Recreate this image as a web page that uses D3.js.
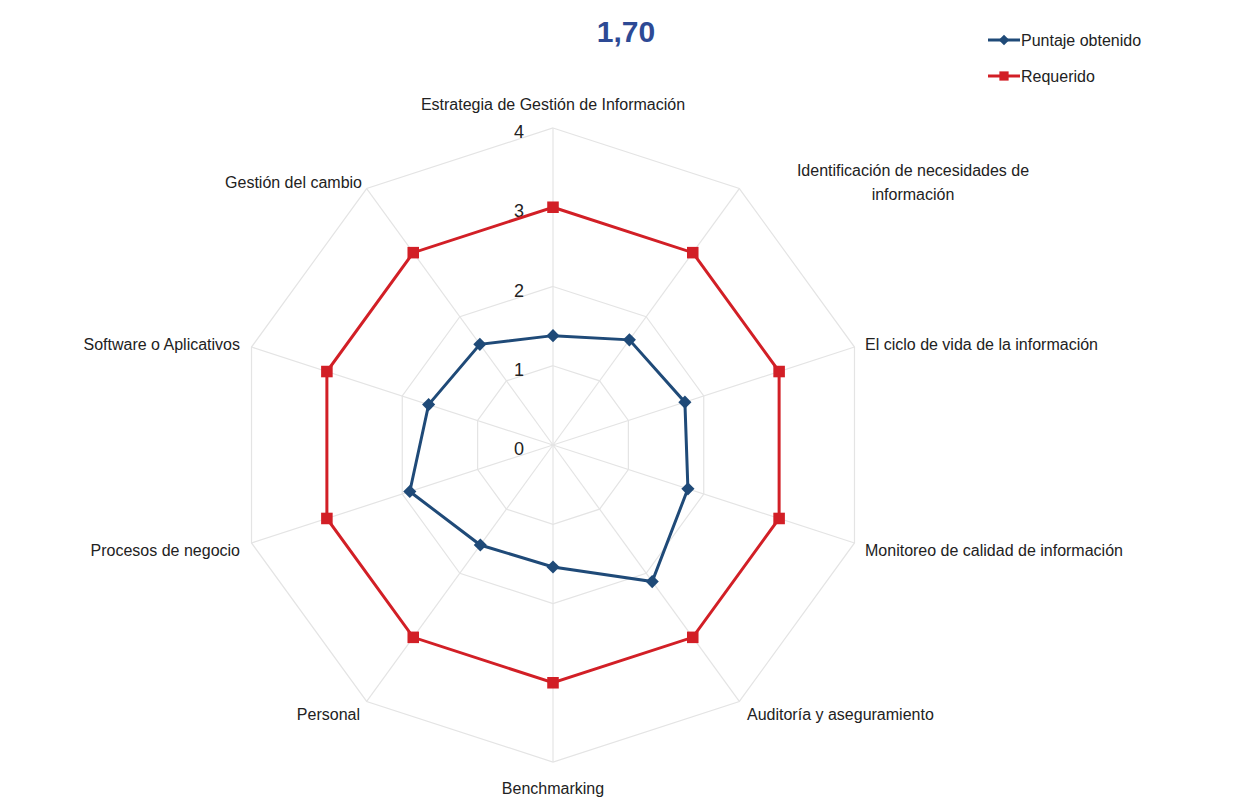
<!DOCTYPE html>
<meta charset="utf-8">
<script src="https://d3js.org/d3.v7.min.js"></script>
<style>
  body { margin: 0; background: #fff; }
  text { font-family: "Liberation Sans", Arial, sans-serif; fill: #222; }
</style>
<div id="chart"></div>
<script>
  // axis names (clockwise from the top)
  var categories = [
    ["Estrategia de Gestión de Información"],
    ["Identificación de necesidades de", "información"],
    ["El ciclo de vida de la información"],
    ["Monitoreo de calidad de información"],
    ["Auditoría y aseguramiento"],
    ["Benchmarking"],
    ["Personal"],
    ["Procesos de negocio"],
    ["Software o Aplicativos"],
    ["Gestión del cambio"]
  ];
  var puntaje = [1.38, 1.64, 1.75, 1.79, 2.13, 1.54, 1.56, 1.90, 1.65, 1.57];
  var requerido = [3, 3, 3, 3, 3, 3, 3, 3, 3, 3];
  var ticks = [0, 1, 2, 3, 4];
  var titleText = "1,70";
  var seriesNames = ["Puntaje obtenido", "Requerido"];

  var width = 1240, height = 799;
  var cx = 553, cy = 445;
  var blue = "#1f4a78", red = "#d21f26", gridColor = "#e4e4e4";

  var svg = d3.select("#chart").append("svg")
    .attr("width", width).attr("height", height);

  var r = d3.scaleLinear().domain([0, 4]).range([0, 317]);
  var n = categories.length;
  var angle = d3.scaleLinear().domain([0, n]).range([0, 2 * Math.PI]);

  function pt(i, v) {
    var a = angle(i);
    return [cx + r(v) * Math.sin(a), cy - r(v) * Math.cos(a)];
  }

  // grid rings
  ticks.slice(1).forEach(function (t) {
    svg.append("path")
      .attr("d", d3.line()(d3.range(n).map(function (i) { return pt(i, t); })) + "Z")
      .attr("fill", "none")
      .attr("stroke", gridColor)
      .attr("stroke-width", 1.2);
  });

  // spokes
  d3.range(n).forEach(function (i) {
    svg.append("path")
      .attr("d", d3.line()([pt(i, 0), pt(i, 4)]))
      .attr("stroke", gridColor)
      .attr("stroke-width", 1.2);
  });

  // tick labels
  svg.selectAll(".tick")
    .data(ticks)
    .enter().append("text")
    .attr("x", cx - 34)
    .attr("y", function (d) { return cy - r(d) + 10; })
    .attr("text-anchor", "middle")
    .style("font-size", "18px")
    .text(function (d) { return d; });

  // category labels
  var labelPos = [
    { x: 553, y: 110, anchor: "middle" },
    { x: 913, y: 176, anchor: "middle" },
    { x: 865, y: 350, anchor: "start" },
    { x: 865, y: 556, anchor: "start" },
    { x: 747, y: 720, anchor: "start" },
    { x: 553, y: 794, anchor: "middle" },
    { x: 360, y: 720, anchor: "end" },
    { x: 240, y: 556, anchor: "end" },
    { x: 240, y: 350, anchor: "end" },
    { x: 362, y: 188, anchor: "end" }
  ];
  categories.forEach(function (lines, i) {
    var t = svg.append("text")
      .attr("x", labelPos[i].x)
      .attr("y", labelPos[i].y)
      .attr("text-anchor", labelPos[i].anchor)
      .style("font-size", "16px");
    lines.forEach(function (l, k) {
      t.append("tspan")
        .attr("x", labelPos[i].x)
        .attr("dy", k === 0 ? 0 : 24)
        .text(l);
    });
  });

  function drawSeries(values, color, marker) {
    var pts = values.map(function (v, i) { return pt(i, v); });
    svg.append("path")
      .attr("d", d3.line()(pts) + "Z")
      .attr("fill", "none")
      .attr("stroke", color)
      .attr("stroke-width", 3);
    svg.selectAll(null)
      .data(pts)
      .enter().append("path")
      .attr("transform", function (d) { return "translate(" + d[0] + "," + d[1] + ")"; })
      .attr("d", marker)
      .attr("fill", color);
  }

  var diamond = d3.symbol().type(d3.symbolDiamond2).size(110)();
  var square = d3.symbol().type(d3.symbolSquare2).size(170)();

  drawSeries(requerido, red, square);
  drawSeries(puntaje, blue, diamond);

  // title
  svg.append("text")
    .attr("x", 626)
    .attr("y", 42)
    .attr("text-anchor", "middle")
    .style("font-size", "30px")
    .style("font-weight", "bold")
    .style("fill", "#2d4a95")
    .text(titleText);

  // legend
  var legend = [
    { name: seriesNames[0], color: blue, marker: diamond, y: 40 },
    { name: seriesNames[1], color: red, marker: square, y: 76 }
  ];
  legend.forEach(function (d) {
    svg.append("line")
      .attr("x1", 988).attr("x2", 1020)
      .attr("y1", d.y).attr("y2", d.y)
      .attr("stroke", d.color).attr("stroke-width", 3);
    svg.append("path")
      .attr("transform", "translate(1004," + d.y + ") scale(0.8)")
      .attr("d", d.marker)
      .attr("fill", d.color);
    svg.append("text")
      .attr("x", 1021)
      .attr("y", d.y + 6)
      .style("font-size", "16px")
      .text(d.name);
  });
</script>
